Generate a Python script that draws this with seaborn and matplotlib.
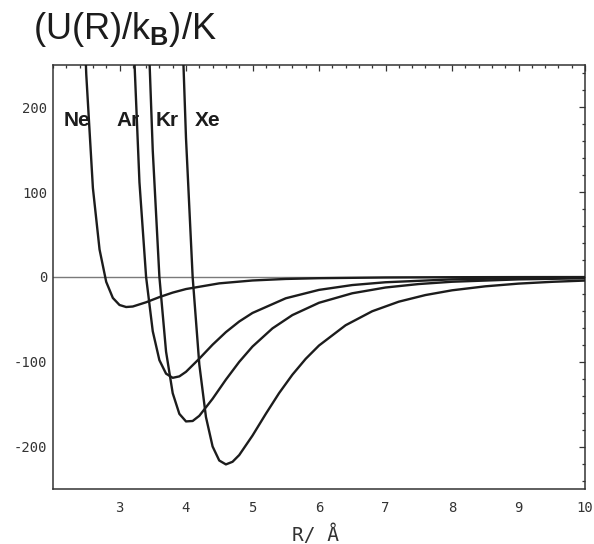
import numpy as np
import pandas as pd
import matplotlib
matplotlib.use("Agg")
import matplotlib.pyplot as plt
from matplotlib.ticker import MultipleLocator
import seaborn as sns

# Interatomic pair potentials U(R)/k_B in kelvin for the noble gases
ne_r = [2.45, 2.5, 2.6, 2.7, 2.8, 2.9, 3.0, 3.1, 3.2, 3.4, 3.6, 3.8, 4.0, 4.5, 5.0, 5.5, 6.0, 7.0, 8.0, 9.0, 10.0]
ne_u = [343.9, 239.1, 104.9, 32.4, -5.7, -24.7, -33.0, -35.4, -34.8, -29.8, -23.7, -18.4, -14.2, -7.5, -4.1, -2.3, -1.4, -0.55, -0.25, -0.12, -0.07]

ar_r = [3.15, 3.2, 3.3, 3.4, 3.5, 3.6, 3.7, 3.8, 3.9, 4.0, 4.2, 4.4, 4.6, 4.8, 5.0, 5.5, 6.0, 6.5, 7.0, 8.0, 9.0, 10.0]
ar_u = [437.6, 300.5, 111.7, 0.0, -63.9, -98.1, -114.0, -118.9, -117.2, -111.8, -96.3, -79.8, -65.0, -52.5, -42.4, -25.1, -15.2, -9.5, -6.2, -2.8, -1.4, -0.73]

kr_r = [3.42, 3.45, 3.5, 3.6, 3.7, 3.8, 3.9, 4.0, 4.1, 4.2, 4.4, 4.6, 4.8, 5.0, 5.3, 5.6, 6.0, 6.5, 7.0, 7.5, 8.0, 9.0, 10.0]
kr_u = [335.3, 256.9, 149.2, 0.0, -88.0, -137.0, -161.4, -170.3, -169.8, -163.7, -143.6, -121.0, -100.1, -82.0, -60.6, -44.9, -30.4, -19.2, -12.4, -8.3, -5.6, -2.8, -1.5]

xe_r = [3.9, 3.95, 4.0, 4.1, 4.2, 4.3, 4.4, 4.5, 4.6, 4.7, 4.8, 5.0, 5.2, 5.4, 5.6, 5.8, 6.0, 6.4, 6.8, 7.2, 7.6, 8.0, 8.5, 9.0, 9.5, 10.0]
xe_u = [417.6, 277.0, 163.7, 0.0, -103.0, -165.1, -199.9, -216.4, -221.0, -217.9, -210.0, -187.0, -161.4, -136.9, -115.2, -96.5, -80.8, -56.9, -40.4, -29.1, -21.3, -15.7, -11.0, -7.8, -5.7, -4.2]

gases = ["Ne", "Ar", "Kr", "Xe"]
x_ticks = [3, 4, 5, 6, 7, 8, 9, 10]
y_ticks = [-200, -100, 0, 100, 200]

frames = []
for name, r, u in zip(gases, [ne_r, ar_r, kr_r, xe_r], [ne_u, ar_u, kr_u, xe_u]):
    frames.append(pd.DataFrame({"R": r, "U": u, "gas": name}))
df = pd.concat(frames, ignore_index=True)

sns.set_style("white")
plt.rcParams["axes.unicode_minus"] = False
plt.rcParams["mathtext.fontset"] = "custom"
plt.rcParams["mathtext.rm"] = "Liberation Sans"
plt.rcParams["mathtext.bf"] = "Liberation Sans:bold"

fig = plt.figure(figsize=(5.94, 5.44), dpi=100)
ax = fig.add_axes([53 / 594, 1 - 489 / 544, (585 - 53) / 594, (489 - 65) / 544])

ax.axhline(0, color="#7a7a7a", lw=1.0, zorder=1)

sns.lineplot(data=df, x="R", y="U", units="gas", estimator=None, sort=False,
             color="#1c1c1c", lw=1.7, ax=ax, zorder=3, legend=False)

ax.set_xlim(2, 10)
ax.set_ylim(-250, 250)

ax.set_xticks(x_ticks)
ax.set_xticklabels([str(v) for v in x_ticks])
ax.set_yticks(y_ticks)
ax.set_yticklabels([str(v) for v in y_ticks])
ax.xaxis.set_minor_locator(MultipleLocator(0.2))
ax.yaxis.set_minor_locator(MultipleLocator(20))

ax.tick_params(which="both", direction="in", top=True, right=True,
               color="#333333", width=0.9)
ax.tick_params(which="major", length=4.0)
ax.tick_params(which="minor", length=2.5)
ax.tick_params(axis="x", which="major", pad=9)
ax.tick_params(axis="y", which="major", pad=4)

for lab in ax.get_xticklabels() + ax.get_yticklabels():
    lab.set_family("DejaVu Sans Mono")
    lab.set_fontsize(10)
    lab.set_color("#333333")

for sp in ax.spines.values():
    sp.set_color("#333333")
    sp.set_linewidth(1.1)

ax.set_xlabel("")
ax.set_ylabel("")

# Curve labels
label_pos = {"Ne": (2.36, 184), "Ar": (3.13, 184), "Kr": (3.71, 184), "Xe": (4.33, 184)}
for name in gases:
    x, y = label_pos[name]
    ax.text(x, y, name, ha="center", va="center", fontsize=15, fontweight="bold",
            family="Liberation Sans", color="#1c1c1c", zorder=2)

fig.text(33 / 594, 1 - 39 / 544, r"(U(R)/k$_{\mathbf{B}}$)/K", fontsize=26,
         family="Liberation Sans", color="#1c1c1c", ha="left", va="baseline")
fig.text(315 / 594, 3 / 544, "R/ Å", fontsize=14, family="DejaVu Sans Mono",
         color="#333333", ha="center", va="baseline")

fig.savefig("out.png", dpi=100)
